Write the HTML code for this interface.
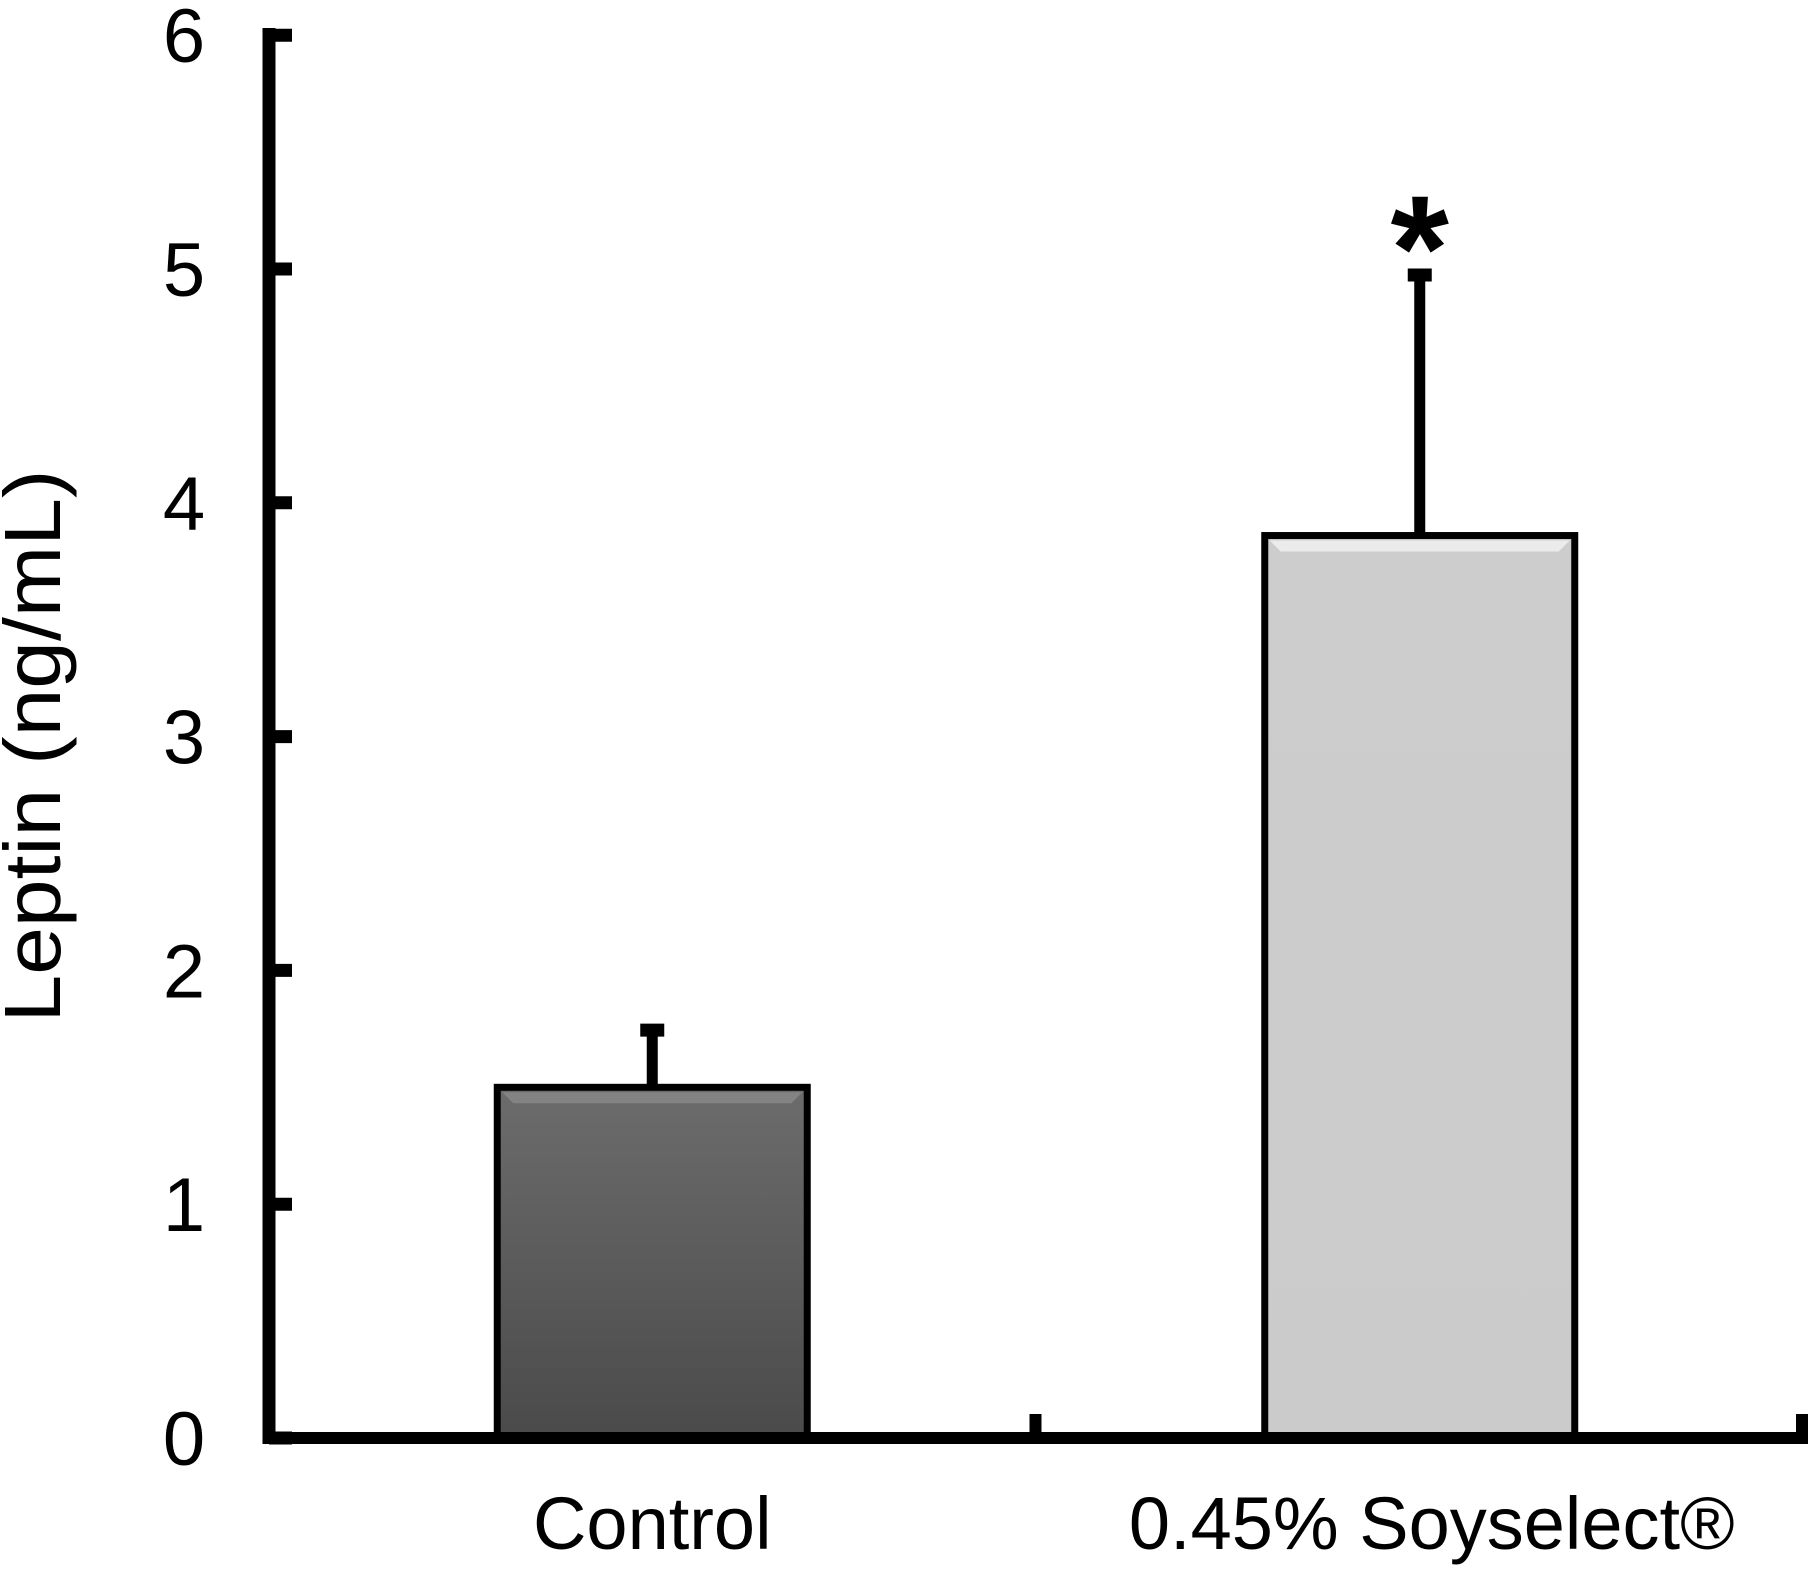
<!DOCTYPE html>
<html><head><meta charset="utf-8"><style>
html,body{margin:0;padding:0;background:#fff;}
svg{display:block;font-family:"Liberation Sans",Arial,sans-serif;}
</style></head><body>
<svg id="chart" width="1817" height="1569" viewBox="0 0 1817 1569" xmlns="http://www.w3.org/2000/svg">
<defs>
<linearGradient id="gDark" x1="0" y1="0" x2="0" y2="1"><stop offset="0" stop-color="#6c6c6c"/><stop offset="1" stop-color="#4a4a4a"/></linearGradient>
<linearGradient id="gLight" x1="0" y1="0" x2="0" y2="1"><stop offset="0" stop-color="#cdcdcd"/><stop offset="1" stop-color="#cbcbcb"/></linearGradient>
</defs>
<g id="plot"></g>
<text transform="translate(60,746) rotate(-90)" text-anchor="middle" font-size="80" textLength="553" lengthAdjust="spacingAndGlyphs">Leptin (ng/mL)</text>
</svg>
<script>
const categories = ["Control", "0.45% Soyselect®"];
const values = [1.5, 3.86];
const errors = [0.27, 1.14];
const yTicks = [0, 1, 2, 3, 4, 5, 6];
const significant = [false, true];

const X0 = 269, X1 = 1802, Y0 = 1438, PER = 233.8;
const y = v => Y0 - v * PER;
const bandW = (X1 - X0) / categories.length;
const cx = i => X0 + bandW * (i + 0.5) + (i === 0 ? 0 : 1);
const labelShift = [0, 12];
const BW = 310;
const fills = ["url(#gDark)", "url(#gLight)"];
const NS = "http://www.w3.org/2000/svg";
const g = document.getElementById('plot');
function mk(tag, attrs) { const e = document.createElementNS(NS, tag); for (const k in attrs) e.setAttribute(k, attrs[k]); g.appendChild(e); return e; }

categories.forEach((c, i) => {
  const x = cx(i) - BW / 2, top = y(values[i]);
  const err = mk('line', {x1: cx(i), x2: cx(i), y1: y(values[i] + errors[i]), y2: top, stroke: '#000', 'stroke-width': 11});
  
  
  const cap = mk('line', {x1: cx(i) - 12, x2: cx(i) + 12, y1: y(values[i] + errors[i]) + 6, y2: y(values[i] + errors[i]) + 6, stroke: '#000', 'stroke-width': 13});
  
  
  const bar = mk('rect', {x: x, y: top, width: BW, height: Y0 - top, fill: fills[i], stroke: '#000', 'stroke-width': 7});
  
  
  const hl = mk('path', {d: `M${x+5},${top+5} L${x+BW-5},${top+5} L${x+BW-16},${top+16} L${x+16},${top+16} Z`, fill: i === 0 ? '#8a8a8a' : '#f2f2f2', opacity: 0.8});
  
  
  const lab = mk('text', {x: cx(i) + labelShift[i], y: 1549, 'text-anchor': 'middle', 'font-size': 74});
  lab.textContent = c;
  
  
  if (significant[i]) {
    const s = mk('text', {x: cx(i), y: 300, 'text-anchor': 'middle', 'font-size': 150, 'font-weight': 'bold'});
    s.textContent = '*';
    
    
  }
});

yTicks.forEach(t => {
  const tk = mk('line', {x1: X0, x2: 292, y1: y(t), y2: y(t), stroke: '#000', 'stroke-width': 13});
  
  
  const tl = mk('text', {x: 184, y: y(t) + 27, 'text-anchor': 'middle', 'font-size': 76});
  tl.textContent = t;
  
  
});
const ya = mk('line', {x1: X0, x2: X0, y1: 28, y2: Y0 + 6, stroke: '#000', 'stroke-width': 13});


const xa = mk('line', {x1: X0 - 6, x2: X1 + 6, y1: Y0, y2: Y0, stroke: '#000', 'stroke-width': 12});


[X0 + bandW, X1].forEach((xx, k) => {
  const xt = mk('line', {x1: xx, x2: xx, y1: Y0, y2: Y0 - 24, stroke: '#000', 'stroke-width': 12});
  
  
});
</script>
</body></html>
